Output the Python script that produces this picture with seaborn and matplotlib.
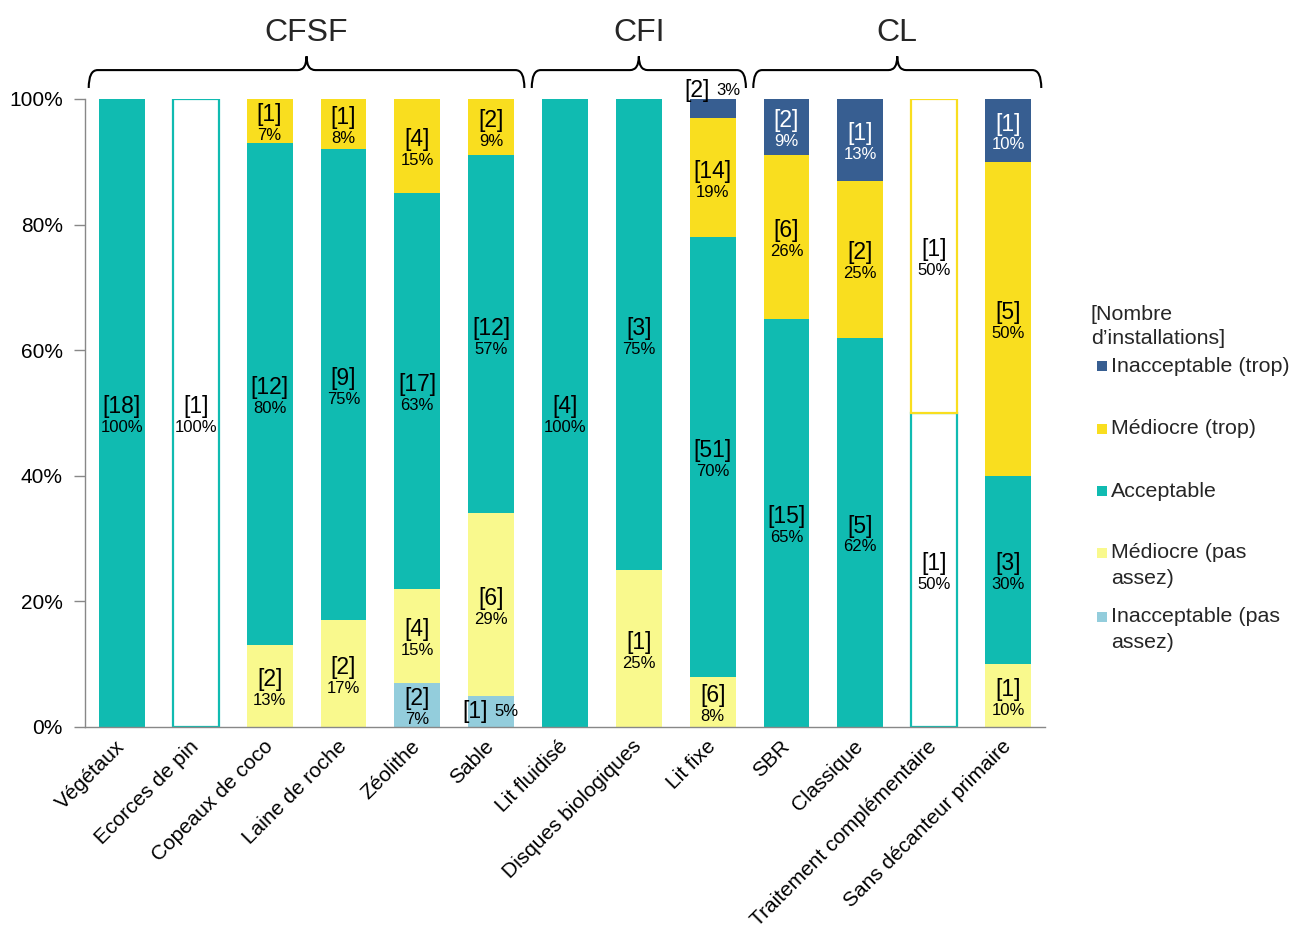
import numpy as np
import pandas as pd
import seaborn as sns
import matplotlib.pyplot as plt
from matplotlib.path import Path
from matplotlib.patches import PathPatch, Rectangle
from matplotlib.transforms import blended_transform_factory

# Catégories (axe x) et groupes
categories = ["Végétaux", "Ecorces de pin", "Copeaux de coco", "Laine de roche",
              "Zéolithe", "Sable", "Lit fluidisé", "Disques biologiques", "Lit fixe",
              "SBR", "Classique", "Traitement complémentaire", "Sans décanteur primaire"]
groupes = ["CFSF", "CFI", "CL"]
groupe_debut = [0, 6, 9]
groupe_fin = [5, 8, 12]

# Pourcentages par classe (du bas vers le haut de la pile)
pct_inacc_pas = [0, 0, 0, 0, 7, 5, 0, 0, 0, 0, 0, 0, 0]
pct_med_pas = [0, 0, 13, 17, 15, 29, 0, 25, 8, 0, 0, 0, 10]
pct_accept = [100, 100, 80, 75, 63, 57, 100, 75, 70, 65, 62, 50, 30]
pct_med_trop = [0, 0, 7, 8, 15, 9, 0, 0, 19, 26, 25, 50, 50]
pct_inacc_trop = [0, 0, 0, 0, 0, 0, 0, 0, 3, 9, 13, 0, 10]

# Nombre d'installations par classe
n_inacc_pas = [0, 0, 0, 0, 2, 1, 0, 0, 0, 0, 0, 0, 0]
n_med_pas = [0, 0, 2, 2, 4, 6, 0, 1, 6, 0, 0, 0, 1]
n_accept = [18, 1, 12, 9, 17, 12, 4, 3, 51, 15, 5, 1, 3]
n_med_trop = [0, 0, 1, 1, 4, 2, 0, 0, 14, 6, 2, 1, 5]
n_inacc_trop = [0, 0, 0, 0, 0, 0, 0, 0, 2, 2, 1, 0, 1]

classes = ["Inacceptable (pas\nassez)", "Médiocre (pas\nassez)", "Acceptable",
           "Médiocre (trop)", "Inacceptable (trop)"]
couleurs = ["#93CDDC", "#F9F98D", "#10BBB1", "#F9DE1F", "#375E91"]

# barres creuses (fond blanc, contour coloré): (classe, catégorie)
creuses = [(2, 1), (2, 11), (3, 11)]

sns.set_theme(style="white")
plt.rcParams['font.family'] = ['Liberation Sans', 'DejaVu Sans']

fig = plt.figure(figsize=(12.92, 9.32), dpi=100)
ax = fig.add_axes([0.0658, 0.2200, 0.7430, 0.6738])

pcts = [pct_inacc_pas, pct_med_pas, pct_accept, pct_med_trop, pct_inacc_trop]
nombres = [n_inacc_pas, n_med_pas, n_accept, n_med_trop, n_inacc_trop]

bas = np.zeros(len(categories))
bas_par_classe = []
for k, (vals, coul) in enumerate(zip(pcts, couleurs)):
    sns.barplot(x=categories, y=vals, order=categories, color=coul, saturation=1,
                bottom=bas.copy(), width=0.62, errorbar=None, linewidth=0, ax=ax)
    bas_par_classe.append(bas.copy())
    cont = ax.containers[-1]
    for (kk, i) in creuses:
        if kk == k:
            p = cont.patches[i]
            p.set_facecolor("white")
            p.set_edgecolor(coul)
            p.set_linewidth(1.6)
    bas = bas + np.array(vals)

# étiquettes [n] et %
for k in range(len(classes)):
    coul_txt = "white" if k == 4 else "black"
    for i in range(len(categories)):
        v = pcts[k][i]
        if v == 0:
            continue
        b = bas_par_classe[k][i]
        n = nombres[k][i]
        if v < 6:
            yy = b + v / 2
            if b + v >= 99.9:
                yy = 101.4
                coul_txt2 = "black"
            else:
                coul_txt2 = coul_txt
            ax.text(i - 0.04, yy, f"[{n}]", ha="right", va="center", fontsize=16.5,
                    color=coul_txt2, clip_on=False)
            ax.text(i + 0.05, yy, f"{v}%", ha="left", va="center", fontsize=12,
                    color=coul_txt2, clip_on=False)
            continue
        yc = b + v / 2
        ax.annotate(f"[{n}]", (i, yc), xytext=(0, 4.5), textcoords="offset points",
                    ha="center", va="center", fontsize=16.5, color=coul_txt)
        ax.annotate(f"{v}%", (i, yc), xytext=(0, -10.5), textcoords="offset points",
                    ha="center", va="center", fontsize=12, color=coul_txt)

# axes
ax.set_xlim(-0.5, len(categories) - 0.5)
ax.set_ylim(0, 100)
ax.set_yticks([0, 20, 40, 60, 80, 100])
ax.set_yticklabels([f"{t}%" for t in [0, 20, 40, 60, 80, 100]], fontsize=15, color="black")
ax.set_xticks(range(len(categories)))
ax.set_xticklabels(categories, rotation=45, ha="right", va="center", rotation_mode="anchor",
                   fontsize=15, color="black")
ax.set_xticks(np.arange(-0.5, len(categories), 1), minor=True)
ax.tick_params(axis="x", which="major", length=0, pad=12)
ax.tick_params(axis="x", which="minor", length=8, color="#888888", width=1, direction="out")
ax.tick_params(axis="y", length=8, color="#888888", width=1, direction="out", pad=8, left=True)
ax.set_xlabel("")
ax.set_ylabel("")
sns.despine(ax=ax)
for s in ["left", "bottom"]:
    ax.spines[s].set_color("#888888")
    ax.spines[s].set_linewidth(1)

# accolades des groupes
trans = blended_transform_factory(ax.transData, ax.transAxes)
y_bas, y_mil, y_haut = 1.0175, 1.046, 1.068
r = 0.12
for nom, d, f in zip(groupes, groupe_debut, groupe_fin):
    x0, x1 = d - 0.45, f + 0.45
    xc = (x0 + x1) / 2
    verts = [(x0, y_bas), (x0, y_mil), (x0 + r, y_mil),
             (xc - r, y_mil), (xc, y_mil), (xc, y_haut),
             (xc, y_mil), (xc + r, y_mil),
             (x1 - r, y_mil), (x1, y_mil), (x1, y_bas)]
    codes = [Path.MOVETO, Path.CURVE3, Path.CURVE3,
             Path.LINETO, Path.CURVE3, Path.CURVE3,
             Path.CURVE3, Path.CURVE3,
             Path.LINETO, Path.CURVE3, Path.CURVE3]
    ax.add_patch(PathPatch(Path(verts, codes), transform=trans, fill=False,
                           edgecolor="black", linewidth=1.5, clip_on=False))
    ax.text(xc, 1.105, nom, transform=trans, ha="center", va="center", fontsize=23)

# légende
fig.text(0.8444, 1 - 315 / 932, "[Nombre", ha="left", va="center", fontsize=15.4)
fig.text(0.8444, 1 - 339 / 932, "d’installations]", ha="left", va="center", fontsize=15.4)
leg_y = [366, 429, 491, 553, 617]
ordre_leg = [4, 3, 2, 1, 0]
for py, k in zip(leg_y, ordre_leg):
    fy = 1 - py / 932
    fig.patches.append(Rectangle((0.849, fy - 0.0054), 0.0077, 0.0107,
                                 transform=fig.transFigure, facecolor=couleurs[k],
                                 edgecolor="none"))
    lignes = classes[k].split("\n")
    for j, ligne in enumerate(lignes):
        fig.text(0.860, fy - j * 25 / 932, ligne, ha="left", va="center", fontsize=15.4)

fig.savefig("out.png", dpi=100)
